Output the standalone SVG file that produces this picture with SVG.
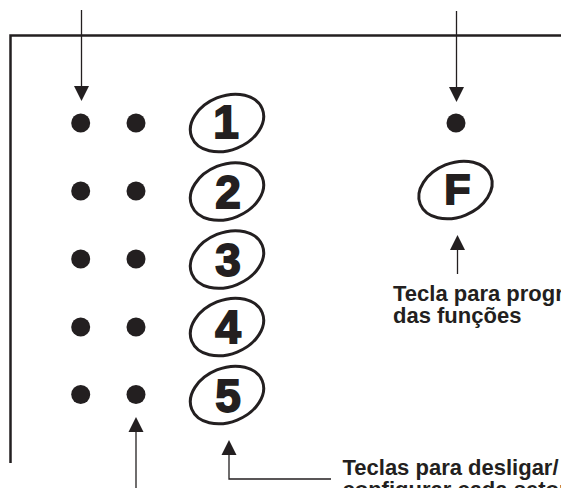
<svg xmlns="http://www.w3.org/2000/svg" width="561" height="488" viewBox="0 0 561 488">
<defs>
<style>
.frame{fill:none;stroke:#231f20;stroke-width:2.5}
.conn{fill:none;stroke:#231f20;stroke-width:1.3}
.head{fill:#231f20}
.dot{fill:#231f20}
.key{fill:none;stroke:#231f20;stroke-width:3}
.num{font-family:"Liberation Sans",Arial,sans-serif;font-weight:bold;font-size:46px;fill:#231f20;stroke:#231f20;stroke-width:1.8;text-anchor:middle}
.lbl{font-family:"Liberation Sans",Arial,sans-serif;font-weight:bold;font-size:22px;fill:#231f20}
</style>
</defs>
<rect width="561" height="488" fill="#ffffff"/>
<g id="frame">
<path class="frame" d="M10.5 463 V35.5 H561"/>
</g>
<g id="connectors">
<path class="conn" d="M81.5 10 V88"/>
<polygon class="head" points="74,86 89,86 81.5,101"/>
<path class="conn" d="M456.5 11 V89"/>
<polygon class="head" points="449,87 464,87 456.5,102"/>
<path class="conn" d="M457.5 274 V248"/>
<polygon class="head" points="450,250 465,250 457.5,235"/>
<path class="conn" d="M136 488 V430"/>
<polygon class="head" points="128.5,432 143.5,432 136,417"/>
<path class="conn" d="M331 479 H229 V453"/>
<polygon class="head" points="221.5,455 236.5,455 229,440"/>
</g>
<g id="leds-col1">
<circle class="dot" cx="80.7" cy="123" r="9.5"/>
<circle class="dot" cx="80.7" cy="191" r="9.5"/>
<circle class="dot" cx="80.7" cy="259" r="9.5"/>
<circle class="dot" cx="80.7" cy="327" r="9.5"/>
<circle class="dot" cx="80.7" cy="394.5" r="9.5"/>
</g>
<g id="leds-col2">
<circle class="dot" cx="136" cy="123" r="9.5"/>
<circle class="dot" cx="136" cy="191" r="9.5"/>
<circle class="dot" cx="136" cy="259" r="9.5"/>
<circle class="dot" cx="136" cy="327" r="9.5"/>
<circle class="dot" cx="136" cy="394.5" r="9.5"/>
</g>
<g id="led-f">
<circle class="dot" cx="456" cy="123" r="9.5"/>
</g>
<g id="key1">
<ellipse class="key" cx="227" cy="123" rx="38" ry="27" transform="rotate(-22 227 123)"/>
<text class="num" x="226" y="138">1</text>
</g>
<g id="key2">
<ellipse class="key" cx="227" cy="191.5" rx="38" ry="27" transform="rotate(-22 227 191.5)"/>
<text class="num" x="228" y="207.5">2</text>
</g>
<g id="key3">
<ellipse class="key" cx="227" cy="259.5" rx="38" ry="27" transform="rotate(-22 227 259.5)"/>
<text class="num" x="228" y="275.5">3</text>
</g>
<g id="key4">
<ellipse class="key" cx="227" cy="327" rx="38" ry="27" transform="rotate(-22 227 327)"/>
<text class="num" x="228" y="343">4</text>
</g>
<g id="key5">
<ellipse class="key" cx="227" cy="395" rx="38" ry="27" transform="rotate(-22 227 395)"/>
<text class="num" x="228" y="411.5">5</text>
</g>
<g id="keyF">
<ellipse class="key" cx="455.5" cy="190" rx="38" ry="27" transform="rotate(-22 455.5 190)"/>
<text class="num" x="457.5" y="204" style="font-size:43px">F</text>
</g>
<g id="label-f">
<text class="lbl" x="393" y="301">Tecla para programação</text>
<text class="lbl" x="393" y="323">das funções</text>
</g>
<g id="label-keys">
<text class="lbl" x="342.5" y="475">Teclas para desligar/</text>
<text class="lbl" x="342.5" y="497">configurar cada setor</text>
</g>
</svg>
